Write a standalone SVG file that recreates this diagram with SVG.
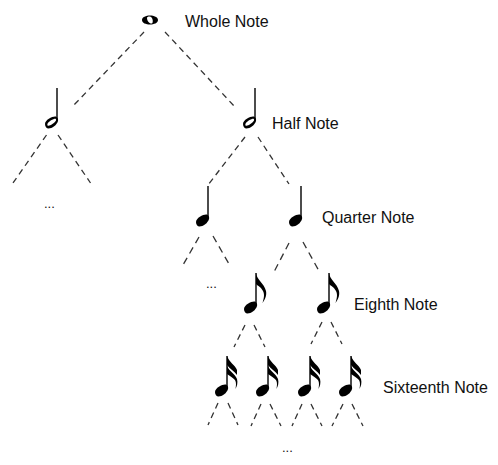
<svg xmlns="http://www.w3.org/2000/svg" width="498" height="465" viewBox="0 0 498 465">
<style>
text{font-family:"Liberation Sans",Arial,sans-serif;font-size:16px;fill:#111}
.e{font-size:13px}
line{stroke:#333;stroke-width:1.3;stroke-dasharray:6 4.500;fill:none}
line.q{stroke-dasharray:7 5}
.s{stroke:#111;stroke-width:1.5;fill:none}
.h{fill:#000}
</style>
<defs>
<g id="half"><path class="s" d="M0 0V33"/><path class="h" fill-rule="evenodd" d="M-12 36C-12 32-5 28.500-2 28.500C0.500 28.500 1.500 31 1 33C0 37-5 40.500-8.500 40.500C-10.500 40.500-12 38.500-12 36ZM-9.500 37.500C-7.500 38.500-3 35.500-1 32.500C-0.500 31-1.500 30.500-3 31C-6 32-10.500 35-9.500 37.500Z"/></g>
<g id="quarter"><path class="s" d="M0 0V33"/><path class="h" d="M-12 36C-12 32-5 28.500-2 28.500C0.500 28.500 1.500 31 1 33C0 37-5 40.500-8.500 40.500C-10.500 40.500-12 38.500-12 36Z"/></g>
<g id="eighth"><use href="#quarter"/><path class="h" d="M0 0C1 7 8 10 10 18C11 23 8.500 27 6.500 30C7.500 26 9 22 7 18C5 14 2 13 0 11Z"/></g>
<g id="sixteenth"><use href="#quarter"/><path class="h" d="M0 0C2 6 8 9 10 14V19C7 15 3 13 0 9Z"/><path class="h" d="M0 10C2 15 8 18 10 23C11 27 10 30 8.500 33C9 29 9.500 27 8 24C6 22 3 20 0 18Z"/></g>
</defs>
<g id="connectors">
<line x1="144" y1="32" x2="73" y2="106"/><line x1="165" y1="32" x2="235" y2="107"/>
<line x1="46.500" y1="135" x2="13" y2="183"/><line x1="58" y1="135" x2="90.500" y2="183"/>
<line x1="245" y1="137" x2="208" y2="185"/><line x1="258" y1="137" x2="289" y2="184"/>
<line class="q" x1="199" y1="237" x2="183" y2="265"/><line class="q" x1="213" y1="236" x2="229" y2="264"/>
<line class="q" x1="289" y1="243" x2="274" y2="272"/><line class="q" x1="303" y1="242" x2="319" y2="271"/>
<line x1="245" y1="325" x2="234" y2="347"/><line x1="254" y1="325" x2="265" y2="347"/>
<line x1="322" y1="322" x2="311" y2="344"/><line x1="331" y1="322" x2="342" y2="344"/>
<line x1="218" y1="403" x2="208" y2="425"/><line x1="228" y1="403" x2="238" y2="425"/>
<line x1="261" y1="404" x2="251" y2="426"/><line x1="270" y1="404" x2="281" y2="426"/>
<line x1="302" y1="404" x2="292" y2="426"/><line x1="311" y1="404" x2="322" y2="426"/>
<line x1="343" y1="404" x2="332" y2="426"/><line x1="352" y1="404" x2="363" y2="426"/>
</g>
<g id="whole"><path class="h" fill-rule="evenodd" d="M142 20C142 17 146 15.500 150 15.500C154 15.500 158 17 158 20C158 23 154 24.500 150 24.500C146 24.500 142 23 142 20ZM147 18C147 21 149.500 24 152 23.500C153.500 22.500 153 16.500 149.500 16.500C148 16.500 147 17 147 18Z"/><text x="185" y="26.500">Whole Note</text></g>
<g id="half-left"><use href="#half" x="57" y="88"/></g>
<g id="half-right"><use href="#half" x="255" y="88"/><text x="272" y="128.500">Half Note</text></g>
<g id="ellipsis-1"><text class="e" x="44" y="208">...</text></g>
<g id="quarter-left"><use href="#quarter" x="208" y="186"/></g>
<g id="quarter-right"><use href="#quarter" x="301" y="186"/><text x="322" y="222.500">Quarter Note</text></g>
<g id="ellipsis-2"><text class="e" x="206" y="288">...</text></g>
<g id="eighth-left"><use href="#eighth" x="256" y="273"/></g>
<g id="eighth-right"><use href="#eighth" x="329" y="273"/><text x="354" y="309.500">Eighth Note</text></g>
<g id="sixteenth-1"><use href="#sixteenth" x="227" y="356"/></g>
<g id="sixteenth-2"><use href="#sixteenth" x="268" y="356"/></g>
<g id="sixteenth-3"><use href="#sixteenth" x="310" y="356"/></g>
<g id="sixteenth-4"><use href="#sixteenth" x="351" y="356"/><text x="383" y="392.500">Sixteenth Note</text></g>
<g id="ellipsis-3"><text class="e" x="282" y="452">...</text></g>
</svg>
